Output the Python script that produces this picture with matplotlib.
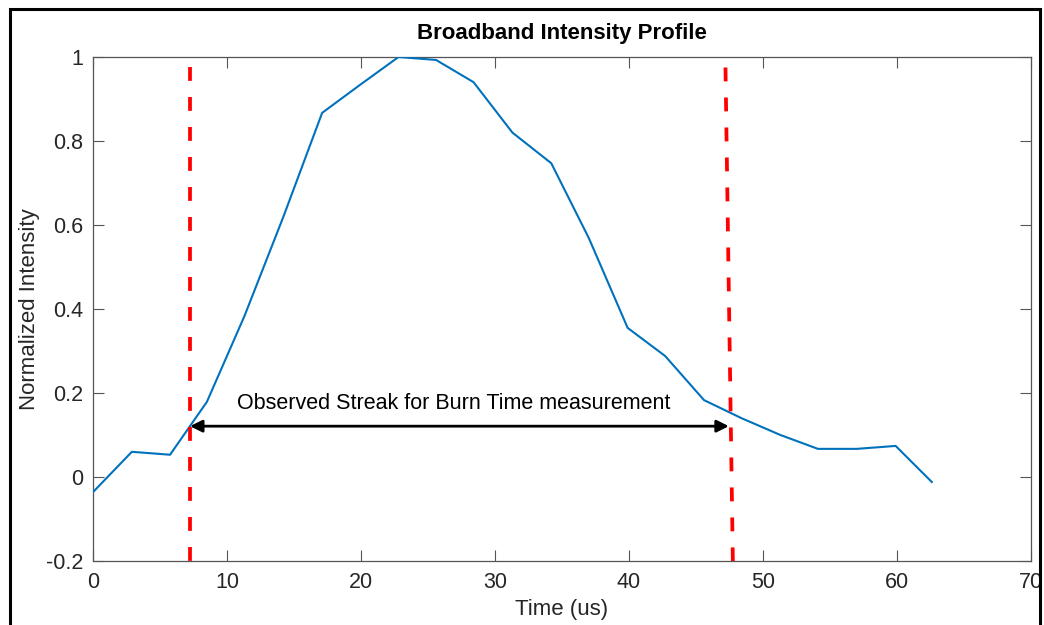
import matplotlib
matplotlib.use("Agg")
import matplotlib.pyplot as plt
from matplotlib.patches import Rectangle

plt.rcParams['font.family'] = ['Liberation Sans', 'DejaVu Sans']

# broadband profile samples
time_us = [0.0, 2.9, 5.75, 8.5, 11.3, 14.2, 17.1, 19.9, 22.8, 25.6, 28.4,
           31.3, 34.2, 37.0, 39.9, 42.7, 45.6, 48.4, 51.3, 54.1, 57.0, 59.9, 62.6]
intensity = [-0.036, 0.06, 0.053, 0.179, 0.383, 0.619, 0.867, 0.933, 1.0, 0.993, 0.94,
             0.82, 0.747, 0.569, 0.355, 0.288, 0.183, 0.14, 0.1, 0.067, 0.067, 0.074, -0.012]

# burn window markers (start, end) as drawn
start_x = [7.24, 7.24]
end_x = [47.2, 47.75]
marker_y = [0.975, -0.2]
arrow_y = 0.121
label = "Observed Streak for Burn Time measurement"

axis_grey = '#555555'
text_grey = '#262626'

fig = plt.figure(figsize=(10.44, 6.25), dpi=100)
ax = fig.add_axes([93 / 1044, 1 - 561 / 625, (1031 - 93) / 1044, (561 - 57) / 625])

ax.plot(time_us, intensity, color='#0072BD', linewidth=1.5, zorder=3)

dash = (0, (3.7, 4.3))
ax.plot(start_x, marker_y, color='red', linewidth=2.7, linestyle=dash, zorder=4)
ax.plot(end_x, marker_y, color='red', linewidth=2.7, linestyle=dash, zorder=4)

ax.annotate('', xy=(start_x[0], arrow_y), xytext=(end_x[1] - 0.3, arrow_y),
            arrowprops=dict(arrowstyle='<|-|>', color='black', lw=2.0,
                            mutation_scale=18, shrinkA=0, shrinkB=0), zorder=5)
ax.text(26.9, 0.174, label, ha='center', va='center', fontsize=15.5, color='black')

ax.set_xlim(0, 70)
ax.set_ylim(-0.2, 1)
ax.set_xticks(range(0, 71, 10))
ax.set_yticks([-0.2, 0, 0.2, 0.4, 0.6, 0.8, 1])
ax.set_yticklabels(['-0.2', '0', '0.2', '0.4', '0.6', '0.8', '1'])
ax.tick_params(direction='in', top=True, right=True, length=8, width=0.8,
               color=axis_grey, labelsize=15.5, labelcolor=text_grey)
ax.tick_params(axis='x', pad=8)
ax.tick_params(axis='y', pad=7)
for s in ax.spines.values():
    s.set_color(axis_grey)
    s.set_linewidth(0.9)

ax.set_xlabel('Time (us)', fontsize=16, color=text_grey, labelpad=4)
ax.set_ylabel('Normalized Intensity', fontsize=16, color=text_grey, labelpad=4)
ax.set_title('Broadband Intensity Profile', fontsize=16, fontweight='bold', pad=13)

# outer frame around the figure
fig.patches.append(Rectangle((10 / 1044, -0.1), 1030 / 1044, 1.1 - 9 / 625,
                             transform=fig.transFigure, fill=False,
                             edgecolor='black', linewidth=2.2))

fig.savefig('out.png', dpi=100)
